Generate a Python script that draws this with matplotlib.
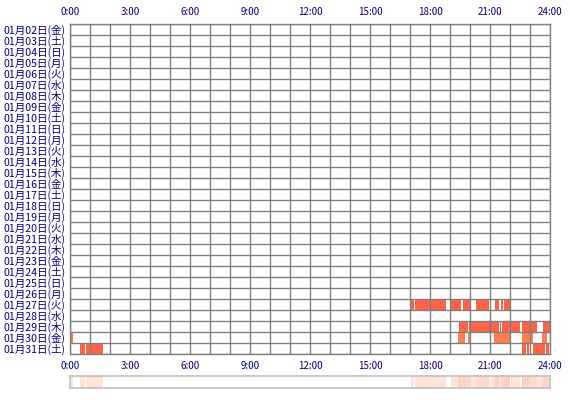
import numpy as np
import matplotlib
matplotlib.use("Agg")
import matplotlib.pyplot as plt
from matplotlib.colors import to_rgb

plt.rcParams['font.family'] = ['Noto Sans CJK JP', 'DejaVu Sans']

# 行ラベル (1月2日〜1月31日)
day_labels = [
    "01月02日(金)", "01月03日(土)", "01月04日(日)", "01月05日(月)", "01月06日(火)",
    "01月07日(水)", "01月08日(木)", "01月09日(金)", "01月10日(土)", "01月11日(日)",
    "01月12日(月)", "01月13日(火)", "01月14日(水)", "01月15日(木)", "01月16日(金)",
    "01月17日(土)", "01月18日(日)", "01月19日(月)", "01月20日(火)", "01月21日(水)",
    "01月22日(木)", "01月23日(金)", "01月24日(土)", "01月25日(日)", "01月26日(月)",
    "01月27日(火)", "01月28日(水)", "01月29日(木)", "01月30日(金)", "01月31日(土)",
]
hour_ticks = [0, 3, 6, 9, 12, 15, 18, 21, 24]
hour_labels = ["0:00", "3:00", "6:00", "9:00", "12:00", "15:00", "18:00", "21:00", "24:00"]

# 活動時間帯 (開始, 終了) 単位: 時
jan27 = [(17.05, 17.2), (17.27, 18.78), (19.03, 19.55), (19.65, 20.0), (20.3, 20.97),
         (21.25, 21.45), (21.55, 21.65), (21.7, 22.0)]
jan29 = [(19.45, 19.9), (19.97, 20.98), (21.03, 21.43), (21.48, 21.57), (21.62, 22.0),
         (22.07, 22.5), (22.6, 22.98), (23.07, 23.35), (23.65, 23.98)]
jan30 = [(0.05, 0.17), (19.4, 19.77), (19.9, 20.0), (21.2, 22.0), (22.6, 23.15),
         (23.58, 23.85)]
jan31 = [(0.5, 0.75), (0.8, 1.63), (22.6, 22.78), (22.87, 22.93), (23.0, 23.05),
         (23.15, 23.73), (23.82, 23.95)]

active_days = ["01月27日(火)", "01月29日(木)", "01月30日(金)", "01月31日(土)"]
active_segments = [jan27, jan29, jan30, jan31]
active_colors = ["#FF6347", "#FF6347", "#FF7F50", "#FF6347"]

navy = "#000080"
grid_grey = "#808080"

fig = plt.figure(figsize=(5.7, 4.0), dpi=100)
W, H = 570, 400
ax = fig.add_axes([70 / W, (H - 354) / H, 480 / W, 330 / H])

for name, segs, col in zip(active_days, active_segments, active_colors):
    row = day_labels.index(name)
    ax.broken_barh([(s, e - s) for s, e in segs], (row, 1), facecolors=col,
                   edgecolor="none")

ax.set_xlim(0, 24)
ax.set_ylim(len(day_labels), 0)
ax.set_xticks(hour_ticks)
ax.set_xticklabels(hour_labels)
ax.set_xticks(range(25), minor=True)
ax.set_yticks(np.arange(len(day_labels)) + 0.5)
ax.set_yticklabels(day_labels)
ax.set_yticks(range(len(day_labels) + 1), minor=True)
ax.tick_params(axis="x", which="both", length=0, labelsize=7, labelcolor=navy,
               top=True, labeltop=True, pad=4)
ax.tick_params(axis="x", which="both", labelbottom=True, pad=5)
ax.tick_params(axis="y", which="both", length=0, labelsize=7.6, labelcolor=navy, pad=3)
ax.set_axisbelow(False)
ax.grid(axis="x", which="both", color=grid_grey, linewidth=1)
ax.grid(axis="y", which="minor", color=grid_grey, linewidth=1)
for sp in ax.spines.values():
    sp.set_color(grid_grey)
    sp.set_linewidth(1)

# 下の集計ストリップ (日ごとの活動を重ねた濃さ)
minutes = np.arange(0, 24, 1 / 60) + 1 / 120
counts = np.zeros_like(minutes)
for segs in active_segments:
    for s, e in segs:
        counts += (minutes >= s) & (minutes < e)
base = np.array(to_rgb("#FF7F50"))
alpha = np.where(counts > 0, 0.15 + 0.07 * counts, 0.0)[:, None]
strip = (1 - alpha) * np.ones(3) + alpha * base

ax2 = fig.add_axes([70 / W, (H - 388) / H, 480 / W, 12 / H])
ax2.imshow(strip[None, :, :], aspect="auto", extent=(0, 24, 0, 1),
           interpolation="nearest")
ax2.set_xlim(0, 24)
ax2.set_xticks([])
ax2.set_yticks([])
for sp in ax2.spines.values():
    sp.set_color("#C0C0C0")
    sp.set_linewidth(1.2)

fig.savefig("out.png", dpi=100)
